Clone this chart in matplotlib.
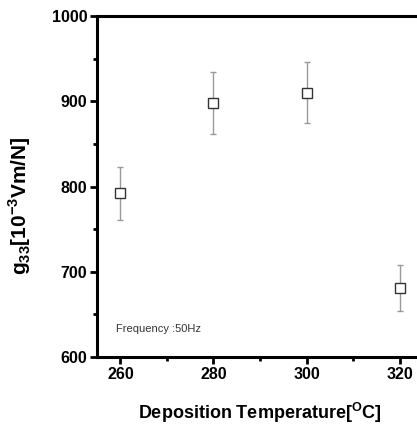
import matplotlib
matplotlib.use("Agg")
import matplotlib.pyplot as plt
from matplotlib.ticker import MultipleLocator

plt.rcParams['font.family'] = ['Liberation Sans', 'DejaVu Sans']
plt.rcParams['mathtext.fontset'] = 'custom'
plt.rcParams['mathtext.rm'] = 'Liberation Sans'
plt.rcParams['mathtext.bf'] = 'Liberation Sans:bold'

temps = [260, 280, 300, 320]
g33 = [792, 898, 910, 681]
err = [31, 36, 36, 27]

fig = plt.figure(figsize=(4.17, 4.24), dpi=100)
ax = fig.add_axes([0.233, 0.158, 0.781, 0.804])

ax.errorbar(temps, g33, yerr=err, fmt='none', ecolor='#999999', elinewidth=1.0,
            capsize=2.5, capthick=1.0)
ax.plot(temps, g33, 's', markersize=7, markerfacecolor='white',
        markeredgecolor='#333333', markeredgewidth=1.0)

ax.set_xlim(255, 325)
ax.set_ylim(600, 1000)
ax.xaxis.set_major_locator(MultipleLocator(20))
ax.xaxis.set_minor_locator(MultipleLocator(10))
ax.yaxis.set_major_locator(MultipleLocator(100))
ax.yaxis.set_minor_locator(MultipleLocator(50))

for s in ax.spines.values():
    s.set_linewidth(2.2)
ax.tick_params(which='major', direction='out', length=5, width=2, labelsize=11.5, pad=2)
ax.tick_params(which='minor', direction='out', length=3, width=2)
for lab in ax.get_xticklabels() + ax.get_yticklabels():
    lab.set_fontweight('bold')

ax.text(259, 633, 'Frequency :50Hz', fontsize=8, color='#333333', va='center')

ax.set_xlabel(r'Deposition Temperature[$\mathbf{^{O}}$C]', fontsize=13,
              fontweight='bold', labelpad=14)
ax.set_ylabel(r'g$_{\mathbf{33}}$[10$^{\mathbf{-3}}$Vm/N]', fontsize=15,
              fontweight='bold')
ax.yaxis.set_label_coords(-0.197, 0.445)

fig.savefig('out.png', dpi=100)
